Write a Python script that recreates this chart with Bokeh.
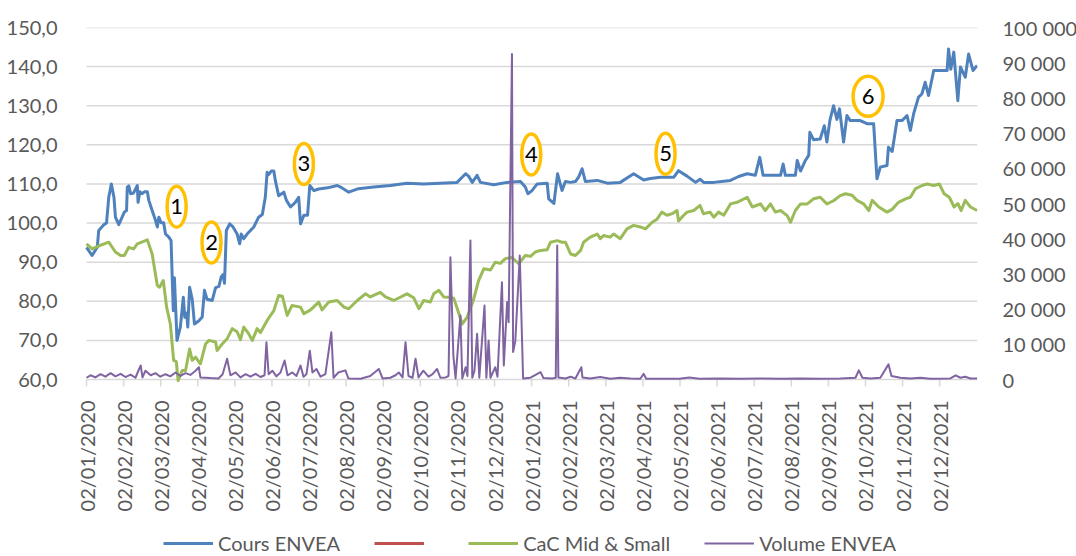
import math
from bokeh.plotting import figure
from bokeh.models import Range1d, LinearAxis, FixedTicker, Legend, LegendItem
from bokeh.core.properties import value
from bokeh.embed import file_html
from bokeh.resources import INLINE

# ---------------- data ----------------
month_labels = ["02/01/2020", "02/02/2020", "02/03/2020", "02/04/2020", "02/05/2020", "02/06/2020",
                "02/07/2020", "02/08/2020", "02/09/2020", "02/10/2020", "02/11/2020", "02/12/2020",
                "02/01/2021", "02/02/2021", "02/03/2021", "02/04/2021", "02/05/2021", "02/06/2021",
                "02/07/2021", "02/08/2021", "02/09/2021", "02/10/2021", "02/11/2021", "02/12/2021"]
month_pos = list(range(24))

left_ticks = [60, 70, 80, 90, 100, 110, 120, 130, 140, 150]
left_labels = ["60,0", "70,0", "80,0", "90,0", "100,0", "110,0", "120,0", "130,0", "140,0", "150,0"]
right_ticks = [0, 10000, 20000, 30000, 40000, 50000, 60000, 70000, 80000, 90000, 100000]
right_labels = ["0", "10 000", "20 000", "30 000", "40 000", "50 000", "60 000", "70 000",
                "80 000", "90 000", "100 000"]

# position in months since 02/01/2020
cours_m = [0.00, 0.15, 0.29, 0.33, 0.47, 0.54, 0.60, 0.67, 0.74, 0.78,
           0.87, 0.96, 1.02, 1.08, 1.10, 1.14, 1.19, 1.27, 1.37, 1.39,
           1.44, 1.50, 1.56, 1.64, 1.68, 1.77, 1.86, 1.91, 1.95, 2.01,
           2.08, 2.13, 2.22, 2.28, 2.31, 2.34, 2.37, 2.44, 2.53, 2.61,
           2.65, 2.70, 2.73, 2.78, 2.85, 2.91, 3.03, 3.12, 3.18, 3.25,
           3.39, 3.48, 3.57, 3.63, 3.68, 3.72, 3.77, 3.86, 3.95, 4.06,
           4.13, 4.17, 4.24, 4.33, 4.51, 4.64, 4.74, 4.82, 4.87, 4.91,
           4.98, 5.05, 5.09, 5.18, 5.32, 5.39, 5.50, 5.63, 5.72, 5.77,
           5.86, 5.96, 6.02, 6.13, 6.26, 6.50, 6.76, 6.85, 7.07, 7.33,
           7.74, 8.19, 8.64, 9.09, 9.54, 9.99, 10.22, 10.30, 10.40, 10.53,
           10.62, 10.98, 11.34, 11.70, 11.83, 11.90, 12.01, 12.15, 12.42, 12.46,
           12.60, 12.70, 12.82, 12.91, 13.05, 13.18, 13.27, 13.36, 13.45, 13.77,
           14.04, 14.39, 14.75, 15.02, 15.20, 15.47, 15.83, 15.96, 16.19, 16.42,
           16.54, 16.64, 16.91, 17.18, 17.36, 17.58, 17.81, 18.03, 18.15, 18.24,
           18.71, 18.78, 18.84, 19.11, 19.16, 19.25, 19.38, 19.47, 19.50, 19.60,
           19.78, 19.89, 19.96, 20.04, 20.14, 20.23, 20.30, 20.41, 20.50, 20.59,
           20.86, 21.04, 21.22, 21.31, 21.40, 21.58, 21.62, 21.72, 21.85, 21.99,
           22.12, 22.21, 22.30, 22.43, 22.52, 22.61, 22.70, 22.84, 23.20, 23.24,
           23.30, 23.38, 23.49, 23.56, 23.69, 23.78, 23.90, 24.01]
cours_envea = [93.8, 91.7, 93.8, 98.1, 99.6, 100, 106.6, 110, 106.6, 101.5,
               99.6, 101.5, 102.8, 103.2, 109.2, 109.5, 107.5, 107.7, 109.6, 105.3,
               108, 107.5, 108, 108, 105.8, 103.2, 100.7, 99, 101.5, 100.1,
               100.1, 97.2, 96.4, 95.5, 86.2, 77.6, 86, 70, 73.4, 81,
               75.9, 77, 73.4, 83.6, 80.5, 74.2, 75, 76, 82.8, 80.5,
               80.2, 83.5, 83.8, 86.2, 86.8, 84.6, 98.1, 99.8, 99, 97.2,
               94.7, 97.2, 96, 97.2, 99, 101.5, 102.2, 106.6, 113, 112.4,
               113.3, 113.3, 110.9, 107, 107.9, 105.8, 104.1, 105.3, 106.6, 99.8,
               102, 102, 109.6, 108.3, 108.7, 109.0, 109.6, 109.2, 107.9, 108.8,
               109.2, 109.6, 110.2, 110, 110.2, 110.4, 112.6, 112, 110.4, 112.2,
               110.4, 109.8, 110.4, 110.6, 109.2, 107.5, 108.3, 110, 110.2, 106.2,
               105, 112.6, 108.3, 110.6, 110.4, 110.6, 111.8, 113.9, 110.6, 110.9,
               110.2, 110.4, 112.6, 111, 111.4, 111.7, 111.7, 113.4, 112, 110.4,
               111.2, 110.4, 110.4, 110.7, 110.9, 111.9, 112.6, 112.2, 116.8, 112.2,
               112.2, 115.1, 112.2, 112.2, 116, 113.3, 116, 117.3, 123.2, 121.3,
               121.5, 124.9, 120.7, 126.2, 130, 126.5, 129.2, 120.7, 127.5, 126.2,
               126.2, 125.4, 125.4, 111.3, 114.3, 114.7, 119.4, 118.3, 126.2, 126.2,
               127.5, 123.7, 128, 132.2, 133, 136, 132.6, 139, 139, 144.5,
               139.3, 143.7, 131.3, 139.9, 137.3, 143.2, 139, 140.3]

cac_m = [0.00, 0.15, 0.29, 0.60, 0.78, 0.92, 1.02, 1.14, 1.27, 1.37,
         1.64, 1.77, 1.91, 1.97, 2.07, 2.16, 2.26, 2.35, 2.42, 2.47,
         2.58, 2.67, 2.78, 2.85, 2.94, 3.07, 3.21, 3.30, 3.48, 3.52,
         3.66, 3.79, 3.93, 4.06, 4.15, 4.24, 4.37, 4.47, 4.60, 4.69,
         4.87, 5.05, 5.18, 5.28, 5.41, 5.54, 5.77, 5.86, 6.04, 6.26,
         6.35, 6.53, 6.76, 6.94, 7.07, 7.30, 7.52, 7.65, 7.92, 8.06,
         8.28, 8.64, 8.82, 8.96, 9.09, 9.27, 9.36, 9.50, 9.63, 9.77,
         9.90, 10.04, 10.13, 10.26, 10.44, 10.57, 10.71, 10.89, 11.02, 11.16,
         11.29, 11.47, 11.65, 11.83, 11.97, 12.10, 12.24, 12.42, 12.51, 12.69,
         12.82, 12.91, 13.05, 13.18, 13.32, 13.40, 13.58, 13.77, 13.85, 13.94,
         14.12, 14.21, 14.39, 14.57, 14.75, 14.93, 15.07, 15.25, 15.38, 15.51,
         15.65, 15.79, 15.92, 15.96, 16.10, 16.19, 16.37, 16.54, 16.63, 16.81,
         16.91, 17.04, 17.18, 17.36, 17.54, 17.81, 17.95, 18.17, 18.30, 18.44,
         18.57, 18.71, 18.89, 18.98, 19.11, 19.25, 19.43, 19.60, 19.78, 19.96,
         20.14, 20.32, 20.46, 20.64, 20.77, 20.95, 21.09, 21.18, 21.36, 21.58,
         21.72, 21.89, 22.08, 22.21, 22.35, 22.53, 22.66, 22.84, 22.99, 23.12,
         23.26, 23.39, 23.49, 23.58, 23.69, 23.83, 24.01]
cac_mid_small = [94.7, 93.4, 94, 95.1, 92.6, 91.7, 91.7, 93.8, 93.4, 94.7,
                 95.7, 92.1, 84, 83.6, 85.3, 78.5, 74.2, 64.9, 64.6, 59.7,
                 62.3, 62.3, 67.8, 64.9, 65.7, 64, 69.1, 70, 69.6, 67.4,
                 69.1, 70.4, 73, 72.2, 70.2, 73.4, 71.7, 70, 73, 72,
                 75.1, 77.6, 81.5, 81.3, 76.4, 78.9, 78.5, 76.8, 77.8, 79.8,
                 77.8, 79.8, 80.2, 78.5, 78.1, 80.2, 81.9, 81.1, 82.3, 81.1,
                 80.2, 81.9, 80.9, 78.1, 80.2, 79.8, 81.9, 82.8, 81.1, 81,
                 80.8, 76.8, 74.2, 75.9, 80.6, 85.3, 88.3, 88, 90, 89.7,
                 90.9, 91.2, 89.6, 91.7, 91.5, 92.6, 93, 93.2, 95.1, 95.5,
                 95.1, 95.1, 92.1, 91.7, 93, 95.1, 96.4, 97.2, 96, 96.8,
                 96.4, 97.2, 96, 98.5, 99.4, 99, 98.5, 100.2, 101, 102.8,
                 102, 102.4, 103.2, 100.5, 102, 102.8, 103.2, 104.5, 102.4, 102.8,
                 101.5, 102.8, 102, 104.9, 105.3, 106.6, 104.1, 104.9, 103.2, 104.9,
                 102.8, 103.2, 101.9, 100.2, 103.2, 104.9, 104.9, 106.2, 106.6, 104.9,
                 105.7, 107, 107.5, 107.1, 105.8, 104.9, 103.2, 105.8, 104.1, 102.8,
                 103.5, 105.3, 106.2, 106.6, 108.8, 109.6, 110, 109.6, 110, 107.5,
                 106.6, 104.1, 105, 103.2, 105.8, 104.1, 103.2]

vol_m = [0.00, 0.11, 0.24, 0.38, 0.51, 0.65, 0.78, 0.92, 1.05, 1.19,
         1.32, 1.46, 1.51, 1.59, 1.73, 1.86, 1.99, 2.13, 2.26, 2.40,
         2.53, 2.67, 2.80, 2.94, 3.03, 3.07, 3.34, 3.56, 3.67, 3.79,
         3.88, 4.02, 4.15, 4.29, 4.42, 4.56, 4.69, 4.80, 4.85, 4.91,
         5.01, 5.12, 5.23, 5.34, 5.42, 5.55, 5.66, 5.77, 5.85, 5.93,
         6.02, 6.09, 6.20, 6.31, 6.44, 6.60, 6.66, 6.79, 6.98, 7.06,
         7.39, 7.65, 7.88, 7.98, 8.19, 8.33, 8.42, 8.52, 8.60, 8.68,
         8.79, 8.87, 8.95, 9.08, 9.22, 9.33, 9.45, 9.54, 9.68, 9.76,
         9.81, 9.89, 9.95, 10.08, 10.13, 10.22, 10.27, 10.35, 10.40, 10.46,
         10.53, 10.59, 10.73, 10.78, 10.84, 10.89, 11.02, 11.08, 11.20, 11.25,
         11.34, 11.38, 11.47, 11.50, 11.56, 11.68, 11.77, 11.97, 12.24, 12.32,
         12.56, 12.65, 12.69, 12.72, 12.91, 13.05, 13.18, 13.34, 13.37, 13.58,
         13.85, 14.12, 14.39, 14.66, 14.93, 15.02, 15.09, 15.47, 15.98, 16.25,
         16.52, 17.06, 17.63, 18.17, 18.71, 19.25, 19.78, 20.32, 20.73, 20.82,
         20.92, 21.13, 21.40, 21.62, 21.70, 21.94, 22.21, 22.48, 22.75, 23.29,
         23.43, 23.56, 23.69, 23.83, 24.01]
volume_envea = [500, 1200, 600, 1500, 800, 1800, 900, 1600, 700, 1400,
                500, 4000, 600, 2500, 1200, 1800, 800, 1500, 900, 2000,
                1000, 1800, 1300, 2500, 3500, 600, 400, 300, 1500, 5900,
                1200, 2000, 600, 1500, 800, 1600, 700, 1200, 10600, 1500,
                2500, 900, 2000, 5400, 1200, 2000, 1000, 4000, 800, 1500,
                8200, 2000, 3000, 800, 1500, 13400, 500, 2000, 2600, 300,
                200, 1000, 3000, 300, 500, 1200, 2000, 600, 10600, 1000,
                500, 5900, 600, 2500, 800, 1500, 3000, 500, 600, 1000,
                34700, 6800, 300, 18200, 300, 3500, 1000, 39500, 500, 2500,
                13000, 500, 21000, 500, 11100, 500, 3500, 800, 27600, 4000,
                22000, 16300, 92500, 7800, 10900, 35200, 300, 500, 2100, 400,
                300, 500, 38100, 600, 300, 800, 300, 3500, 600, 300,
                700, 200, 500, 300, 200, 1600, 200, 200, 200, 600,
                200, 300, 200, 300, 200, 300, 200, 300, 500, 2600,
                500, 300, 500, 4300, 1000, 500, 300, 500, 200, 300,
                1200, 500, 800, 300, 300]

# unnamed (red) series: a single point, so no visible line in the plot
red_m = [0.0]
red_values = [60.0]

# circled event markers
ann_labels = ["1", "2", "3", "4", "5", "6"]
ann_m = [2.43, 3.37, 5.86, 11.99, 15.61, 21.07]
ann_val = [104.2, 95.0, 115.1, 117.5, 117.7, 132.4]
ann_w = [19, 19, 19, 19, 19, 30]
ann_h = [41, 41, 41, 41, 41, 40]

# ---------------- layout / styling ----------------
FONT = "Lato"
TXT = "#595959"
GRID = "#d9d9d9"
BLUE, RED, GREEN, PURPLE, ORANGE = "#4F81BD", "#C0504D", "#9BBB59", "#8064A2", "#FFC000"

PLOT_W = 891            # px between first and last date of the value area
PLOT_H = 352            # px between 60 and 150 on the left scale
LEFT_PAD = 12           # extra px left of the value area (room for the first date label)
BOTTOM_H = 177          # px below the value area (date labels + legend)
X_LO, X_HI = 0, 24.02
Y_LO, Y_HI = 60, 150
V_LO, V_HI = 0, 100000
x_left = X_LO - LEFT_PAD * (X_HI - X_LO) / PLOT_W
y_bottom = Y_LO - BOTTOM_H * (Y_HI - Y_LO) / PLOT_H
v_bottom = V_LO - BOTTOM_H * (V_HI - V_LO) / PLOT_H
TICK_LEN = 7 * (Y_HI - Y_LO) / PLOT_H

p = figure(frame_width=PLOT_W + LEFT_PAD, frame_height=PLOT_H + BOTTOM_H,
           x_range=Range1d(x_left, X_HI), y_range=Range1d(y_bottom, Y_HI),
           x_axis_location=None, output_backend="svg", toolbar_location=None,
           min_border_left=86 - LEFT_PAD, min_border_right=99, min_border_top=27,
           min_border_bottom=0)
p.extra_y_ranges = {"vol": Range1d(v_bottom, V_HI)}
p.outline_line_color = None
p.background_fill_color = "white"
p.border_fill_color = "white"
for g in p.xgrid:
    g.visible = False
for g in p.ygrid:
    g.visible = False

ya = p.yaxis[0]
ya.ticker = FixedTicker(ticks=left_ticks)
ya.major_label_overrides = {t: l for t, l in zip(left_ticks, left_labels)}
ya.axis_line_color = None
ya.major_tick_line_color = None
ya.minor_tick_line_color = None
ya.major_label_text_font = FONT
ya.major_label_text_font_size = "20px"
ya.major_label_text_color = TXT
ya.major_label_standoff = 23 - LEFT_PAD

ra = LinearAxis(y_range_name="vol", ticker=FixedTicker(ticks=right_ticks),
                major_label_overrides={t: l for t, l in zip(right_ticks, right_labels)})
ra.axis_line_color = None
ra.major_tick_line_color = None
ra.minor_tick_line_color = None
ra.major_label_text_font = FONT
ra.major_label_text_font_size = "20px"
ra.major_label_text_color = TXT
ra.major_label_standoff = 19
p.add_layout(ra, "right")

# horizontal gridlines across the value area only (the 60 line is also the date axis)
p.segment(x0=[X_LO] * len(left_ticks), y0=left_ticks, x1=[X_HI] * len(left_ticks),
          y1=left_ticks, line_color=GRID, line_width=1.5)
# date tick marks and vertical labels
p.segment(x0=month_pos, y0=[Y_LO] * len(month_pos), x1=month_pos,
          y1=[Y_LO - TICK_LEN] * len(month_pos), line_color=GRID, line_width=1.5)
p.text(x=month_pos, y=[Y_LO] * len(month_pos), text=month_labels, angle=math.pi / 2,
       y_offset=21, text_align="right", text_baseline="middle",
       text_font=value(FONT), text_font_size="20px", text_color=TXT)

r_blue = p.line(cours_m, cours_envea, line_color=BLUE, line_width=3, line_join="round")
r_red = p.line(red_m, red_values, line_color=RED, line_width=3)
r_green = p.line(cac_m, cac_mid_small, line_color=GREEN, line_width=3, line_join="round")
r_vol = p.line(vol_m, volume_envea, line_color=PURPLE, line_width=2, y_range_name="vol",
               line_join="round")

p.ellipse(x=ann_m, y=ann_val, width=ann_w, height=ann_h, width_units="screen",
          height_units="screen", fill_color="white", line_color=ORANGE, line_width=3.5)
p.text(x=ann_m, y=ann_val, text=ann_labels, text_align="center", text_baseline="middle",
       text_font=value(FONT), text_font_size="22px", text_color="black")

legend = Legend(items=[LegendItem(label="Cours ENVEA", renderers=[r_blue]),
                       LegendItem(label="\u00a0", renderers=[r_red]),
                       LegendItem(label="CaC Mid & Small", renderers=[r_green]),
                       LegendItem(label="Volume ENVEA", renderers=[r_vol])],
                orientation="horizontal", location=(77 + LEFT_PAD, 1),
                label_text_font=FONT, label_text_font_size="20px", label_text_color=TXT,
                label_width=4, label_height=18,
                glyph_width=50, glyph_height=18, label_standoff=5, spacing=34,
                border_line_color=None, background_fill_alpha=0, padding=0, margin=0,
                inactive_fill_alpha=0)
p.add_layout(legend, "center")

open("out.html", "w").write(file_html(p, INLINE))
